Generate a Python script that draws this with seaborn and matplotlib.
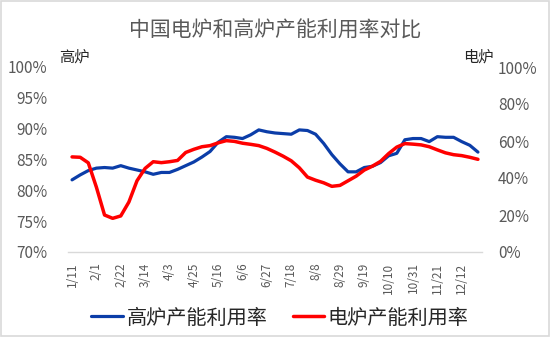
import matplotlib
matplotlib.use('Agg')
import matplotlib.pyplot as plt
import seaborn as sns
import pandas as pd
from matplotlib.patches import Rectangle
from matplotlib.lines import Line2D

# ---- data ----
tick_labels = ['1/11', '2/1', '2/22', '3/14', '4/3', '4/25', '5/16', '6/6', '6/27',
               '7/18', '8/8', '8/29', '9/19', '10/10', '10/31', '11/21', '12/12']

blast_furnace = [81.7, 82.5, 83.2, 83.6, 83.7, 83.6, 84.0, 83.6, 83.3, 83.0,
                 82.6, 82.9, 82.9, 83.4, 84.0, 84.6, 85.4, 86.3, 87.8, 88.7,
                 88.6, 88.4, 89.0, 89.8, 89.5, 89.3, 89.2, 89.1, 89.8, 89.7,
                 89.1, 87.6, 85.8, 84.3, 83.0, 83.0, 83.7, 83.9, 84.5, 85.6,
                 86.0, 88.2, 88.4, 88.4, 87.9, 88.7, 88.6, 88.6, 87.9, 87.3,
                 86.2]

electric_furnace = [51.4, 51.2, 48.2, 35.0, 20.0, 18.2, 19.5, 27.0, 38.5, 45.2,
                    48.8, 48.3, 48.8, 49.5, 53.8, 55.5, 56.9, 57.5, 59.0, 60.2,
                    59.8, 58.8, 58.2, 57.5, 56.0, 54.0, 51.8, 49.3, 45.5, 40.5,
                    38.8, 37.4, 35.5, 36.0, 38.5, 41.0, 44.3, 46.4, 49.0, 53.2,
                    56.7, 58.6, 58.3, 57.9, 56.9, 55.2, 53.6, 52.6, 52.1, 51.2,
                    50.1]

left_ticks = [70, 75, 80, 85, 90, 95, 100]
right_ticks = [0, 20, 40, 60, 80, 100]

series_names = ['高炉产能利用率', '电炉产能利用率']
title = '中国电炉和高炉产能利用率对比'

# ---- style ----
sns.set_theme(style='white')
plt.rcParams['font.family'] = ['Noto Sans CJK SC', 'DejaVu Sans']

BLUE = '#0B3DA8'
RED = '#FF0000'
GRAY = '#595959'

fig = plt.figure(figsize=(5.5, 3.37), dpi=100)
L, R, T, B = 68, 482, 67, 252
ax = fig.add_axes([L / 550, 1 - B / 337, (R - L) / 550, (B - T) / 337])
ax2 = ax.twinx()

df = pd.DataFrame({'week': range(len(blast_furnace)),
                   'bf': blast_furnace, 'ef': electric_furnace})

sns.lineplot(data=df, x='week', y='bf', ax=ax, color=BLUE, lw=2.3, legend=False)
sns.lineplot(data=df, x='week', y='ef', ax=ax2, color=RED, lw=2.5, legend=False)

ax.set_xlim(-0.5, len(blast_furnace) - 0.5)
ax.set_ylim(70, 100)
ax2.set_ylim(0, 100)
ax.set_yticks(left_ticks)
ax.set_yticklabels([f'{v}%' for v in left_ticks])
ax2.set_yticks(right_ticks)
ax2.set_yticklabels([f'{v}%' for v in right_ticks])
ax.set_xticks(range(0, len(blast_furnace), 3))
ax.set_xticklabels(tick_labels, rotation=90)

ax.set_xlabel('')
ax.set_ylabel('')
ax2.set_ylabel('')
ax.grid(False)
ax2.grid(False)

ax.tick_params(axis='y', length=0, pad=15, labelsize=11, labelcolor=GRAY)
ax2.tick_params(axis='y', length=0, pad=11.5, labelsize=11, labelcolor=GRAY)
ax.tick_params(axis='x', length=0, pad=7.5, labelsize=8.5, labelcolor=GRAY)

for s in ['left', 'right', 'top']:
    ax.spines[s].set_visible(False)
for s in ax2.spines.values():
    s.set_visible(False)
ax.spines['bottom'].set_color('#D9D9D9')
ax.spines['bottom'].set_linewidth(1.0)

fig.text(0.5, 1 - 31 / 337, title, ha='center', va='center', fontsize=15, color=GRAY)
fig.text(74 / 550, 1 - 57 / 337, '高炉', ha='center', va='center', fontsize=11, color='#262626')
fig.text(478 / 550, 1 - 57 / 337, '电炉', ha='center', va='center', fontsize=11, color='#262626')

handles = [Line2D([], [], color=BLUE, lw=2.3), Line2D([], [], color=RED, lw=2.5)]
fig.legend(handles, series_names, loc='center', bbox_to_anchor=(280 / 550, 1 - 318 / 337),
           ncol=2, frameon=False, fontsize=14.5, handlelength=1.55, handletextpad=0.2,
           columnspacing=1.25, labelcolor='#262626')

fig.patches.append(Rectangle((0.002, 0.004), 0.996, 0.992, transform=fig.transFigure,
                             fill=False, edgecolor='#D9D9D9', lw=1.2))

fig.savefig('out.png', dpi=100)
